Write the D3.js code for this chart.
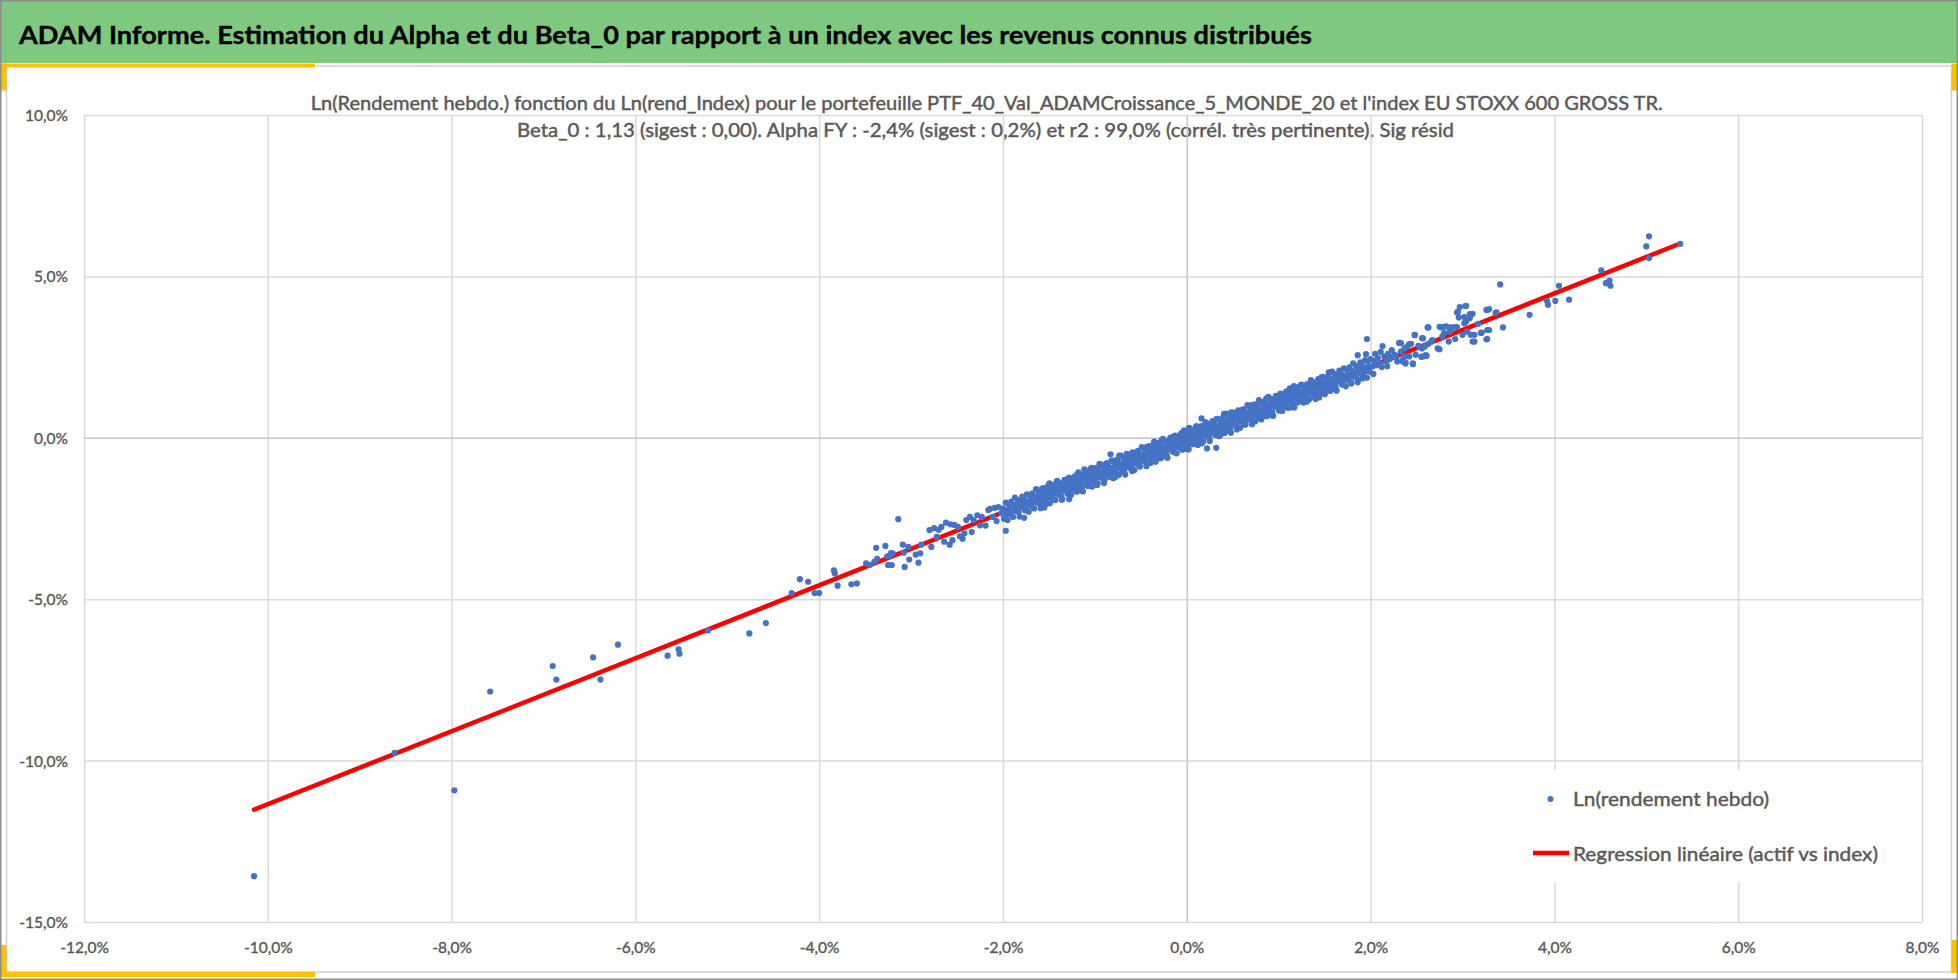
<!DOCTYPE html>
<html><head><meta charset="utf-8">
<script src="https://cdn.jsdelivr.net/npm/d3@7"></script>
<style>html,body{margin:0;padding:0;background:#fff;overflow:hidden}svg{display:block}</style>
</head><body>
<svg id="chart" width="1958" height="980"></svg>
<script>
// ---------- data ----------
const titleText = "ADAM Informe. Estimation du Alpha et du Beta_0 par rapport à un index avec les revenus connus distribués";
const subtitleLines = [
  "Ln(Rendement hebdo.) fonction du Ln(rend_Index) pour le portefeuille PTF_40_Val_ADAMCroissance_5_MONDE_20 et l'index EU STOXX 600 GROSS TR.",
  "Beta_0 : 1,13 (sigest : 0,00). Alpha FY : -2,4% (sigest : 0,2%) et r2 : 99,0% (corrél. très pertinente). Sig résid"
];
const xTicks = [-12,-10,-8,-6,-4,-2,0,2,4,6,8];
const yTicks = [10,5,0,-5,-10,-15];
const legendLabels = ["Ln(rendement hebdo)", "Regression linéaire (actif vs index)"];
// regression line end points [x %, y %]
const regressionLine = [[-10.15,-11.52],[5.37,6.02]];
// weekly log returns [index %, portfolio %]
const tailPoints = [
[-10.15,-13.58],[-8.62,-9.76],[-7.97,-10.92],[-7.58,-7.86],[-6.90,-7.07],[-6.86,-7.49],[-6.46,-6.80],[-6.38,-7.49],[-6.19,-6.41],[-5.65,-6.75],[-5.53,-6.55],[-5.52,-6.69],[-5.21,-5.97],[-4.76,-6.06],[-4.58,-5.74],[-4.30,-4.81],[-4.21,-4.38],[-4.12,-4.46],[-4.05,-4.81],[-4.00,-4.81],[-3.84,-4.11],[-3.83,-4.20],[-3.80,-4.58],[-3.65,-4.54],[-3.59,-4.51],[-3.49,-3.89],[-3.45,-3.94],[-3.40,-3.84],[-3.38,-3.41],[-3.37,-3.75],[-3.28,-3.35],[-3.26,-3.67],[-3.25,-3.94],[-3.21,-3.94],[-3.22,-3.57],[-3.23,-3.64],[-3.20,-3.58],[-3.14,-2.52],[-3.09,-3.31],[-3.08,-3.56],[-3.07,-4.00],[-3.03,-3.38],[-3.02,-3.77],[-2.92,-3.87],[-2.90,-3.58],[-2.89,-3.31],[-2.80,-2.86],[-2.78,-3.38],[-2.75,-2.80],[-2.72,-3.07],[-2.67,-2.76],[-2.62,-2.63],[-2.57,-2.68],[-2.58,-3.31],[-2.55,-3.17],[-2.49,-2.76],[-2.44,-3.13],[-2.42,-2.96],[-2.36,-2.45],[-2.32,-2.55],[-2.25,-2.71],[-2.23,-2.45],[-2.16,-2.24],[-2.09,-2.17],[-2.11,-2.45],[-2.02,-2.34],
[-2.53,-2.70],[-2.47,-3.05],[-2.40,-2.55],[-2.34,-2.92],[-2.28,-2.40],[-2.19,-2.72],[-2.14,-2.20],[-2.07,-2.58],[-2.05,-2.15],[-2.70,-2.85],[-2.95,-3.62],[-2.64,-3.22],
[-1.97,-2.88],[-1.77,-2.48],[-1.55,-2.16],[-1.28,-1.90],[-0.83,-0.51],[0.22,-0.33],[0.32,-0.31],[0.16,0.60],[1.44,1.25],[1.79,1.68],[1.91,1.84],[1.96,3.06],[1.86,2.56],[1.95,2.59],
[2.13,2.84],[2.23,2.72],[2.31,2.94],[2.24,2.51],[2.29,2.36],[2.02,2.21],[2.04,2.38],[2.06,2.25],[2.08,2.47],[2.10,2.31],[2.12,2.19],[2.15,2.52],[2.17,2.36],[2.19,2.60],[2.21,2.44],[2.26,2.58],[2.28,2.49],[2.05,2.60],[2.11,2.66],[2.18,2.22],[2.03,1.98],
[2.42,2.90],[2.48,3.18],[2.53,2.82],[2.62,3.42],[2.66,2.98],[2.75,3.44],[2.80,3.44],[2.91,3.42],[2.95,3.90],[3.03,4.08],[3.04,3.60],[3.08,3.83],[3.11,2.98],[3.20,3.25],[3.26,3.96],[3.27,3.34],[3.26,3.05],[3.36,3.87],[2.35,2.41],[2.38,2.30],[2.46,2.28],[2.55,2.51],[2.60,2.56],[2.56,3.09],
[5.37,6.01],[5.03,6.24],[5.00,5.93],[5.03,5.57],[4.51,5.19],[4.56,4.79],[4.60,4.87],[4.61,4.71],[4.58,4.81],[4.05,4.71],[4.16,4.28],[4.01,4.24],[3.92,4.24],[3.93,4.12],[3.73,3.81],[3.41,4.75],[3.44,3.42],[3.37,3.89],[3.29,3.34],[3.27,3.96],[3.29,3.99],[3.27,3.06],[3.21,3.26],[3.13,2.98],[3.17,3.53],[3.11,3.84],[3.04,4.09],[2.97,4.05],[2.94,3.88],[2.96,3.73],[3.02,3.74],[3.08,3.71],[3.02,3.55],[3.05,3.29],[3.09,3.19],[3.00,3.19],[3.13,3.19],[2.94,3.43],[2.90,3.42],[2.86,3.42],[2.82,3.45],[2.77,3.42],[2.86,3.29],[2.80,3.24],[2.78,3.14],[2.92,3.06],[2.85,2.98],[2.63,3.42],[2.73,2.77],[2.75,2.74],[2.67,3.03],[2.63,2.91],[2.59,2.83],[2.56,2.77],[2.52,2.85],[2.57,3.08],[2.48,3.19],[2.61,2.54],[2.57,2.52],[2.49,2.57],[2.44,2.91],[2.40,2.83],[2.37,2.77],[2.33,2.93],[2.37,2.52],[2.42,2.52],[2.46,2.31],[2.35,2.36],[2.38,2.33],[2.33,2.67]
];
const corePointsA = [
[-2.00,-2.19],[-1.99,-2.51],[-1.98,-2.24],[-1.97,-2.01],[-1.96,-2.36],[-1.95,-2.55],[-1.94,-2.06],[-1.93,-2.22],[-1.92,-2.37],[-1.91,-1.98],[-1.90,-2.24],[-1.89,-2.45],[-1.88,-2.08],[-1.87,-1.85],[-1.86,-2.27],[-1.85,-2.11],[-1.84,-1.93],[-1.83,-2.31],[-1.82,-2.44],[-1.81,-1.96],[-1.80,-2.15],[-1.79,-1.82],[-1.78,-2.07],
[-1.77,-1.93],[-1.76,-2.25],[-1.75,-1.98],[-1.74,-1.75],[-1.73,-2.10],[-1.72,-2.29],[-1.71,-1.80],[-1.70,-1.96],[-1.69,-2.11],[-1.68,-1.72],[-1.67,-1.98],[-1.66,-2.19],[-1.65,-1.82],[-1.64,-1.59],[-1.63,-2.01],[-1.62,-1.85],[-1.61,-1.67],[-1.60,-2.05],[-1.59,-2.18],[-1.58,-1.70],[-1.57,-1.89],[-1.56,-1.56],[-1.55,-1.81],
[-1.54,-1.67],[-1.53,-1.99],[-1.52,-1.72],[-1.51,-1.49],[-1.50,-1.84],[-1.49,-2.03],[-1.48,-1.54],[-1.47,-1.70],[-1.46,-1.85],[-1.45,-1.46],[-1.44,-1.72],[-1.43,-1.93],[-1.42,-1.56],[-1.41,-1.33],[-1.40,-1.75],[-1.39,-1.59],[-1.38,-1.41],[-1.37,-1.79],[-1.36,-1.92],[-1.35,-1.44],[-1.34,-1.63],[-1.33,-1.30],[-1.32,-1.55],
[-1.31,-1.41],[-1.30,-1.73],[-1.29,-1.46],[-1.28,-1.23],[-1.27,-1.58],[-1.26,-1.77],[-1.25,-1.28],[-1.24,-1.44],[-1.23,-1.59],[-1.22,-1.20],[-1.21,-1.46],[-1.20,-1.67],[-1.19,-1.30],[-1.18,-1.07],[-1.17,-1.49],[-1.16,-1.33],[-1.15,-1.15],[-1.14,-1.53],[-1.13,-1.66],[-1.12,-1.18],[-1.11,-1.37],[-1.10,-1.04],[-1.09,-1.29],
[-1.08,-1.15],[-1.07,-1.47],[-1.06,-1.20],[-1.05,-0.97],[-1.04,-1.32],[-1.03,-1.51],[-1.02,-1.02],[-1.01,-1.18],[-1.00,-1.33],[-0.99,-0.94],[-0.98,-1.20],[-0.97,-1.41],[-0.96,-1.04],[-0.95,-0.81],[-0.94,-1.23],[-0.93,-1.07],[-0.92,-0.89],[-0.91,-1.27],[-0.90,-1.40],[-0.89,-0.92],[-0.88,-1.11],[-0.87,-0.78],[-0.86,-1.03],
[-0.85,-0.89],[-0.84,-1.21],[-0.83,-0.94],[-0.82,-0.71],[-0.81,-1.06],[-0.80,-1.25],[-0.79,-0.76],[-0.78,-0.92],[-0.77,-1.07],[-0.76,-0.68],[-0.75,-0.94],[-0.74,-1.15],[-0.73,-0.78],[-0.72,-0.55],[-0.71,-0.97],[-0.70,-0.81],[-0.69,-0.63],[-0.68,-1.01],[-0.67,-1.14],[-0.66,-0.66],[-0.65,-0.85],[-0.64,-0.52],[-0.63,-0.77],
[-0.62,-0.63],[-0.61,-0.95],[-0.60,-0.68],[-0.59,-0.45],[-0.58,-0.80],[-0.57,-1.00],[-0.56,-0.50],[-0.55,-0.66],[-0.54,-0.81],[-0.53,-0.42],[-0.52,-0.68],[-0.51,-0.89],[-0.50,-0.53],[-0.49,-0.29],[-0.48,-0.71],[-0.47,-0.55],[-0.46,-0.37],[-0.45,-0.75],[-0.44,-0.88],[-0.43,-0.40],[-0.42,-0.60],[-0.41,-0.26],[-0.40,-0.51],
[-0.39,-0.37],[-0.38,-0.69],[-0.37,-0.42],[-0.36,-0.19],[-0.35,-0.54],[-0.34,-0.74],[-0.33,-0.24],[-0.32,-0.40],[-0.31,-0.55],[-0.30,-0.16],[-0.29,-0.42],[-0.28,-0.63],[-0.27,-0.27],[-0.26,-0.03],[-0.25,-0.45],[-0.24,-0.29],[-0.23,-0.11],[-0.22,-0.49],[-0.21,-0.62],[-0.20,-0.14],[-0.19,-0.34],[-0.18,0.00],[-0.17,-0.25],
[-0.16,-0.11],[-0.15,-0.43],[-0.14,-0.16],[-0.13,0.07],[-0.12,-0.28],[-0.11,-0.48],[-0.10,0.02],[-0.09,-0.14],[-0.08,-0.29],[-0.07,0.10],[-0.06,-0.16],[-0.05,-0.37],[-0.04,0.00],[-0.03,0.23],[-0.02,-0.19],[-0.01,-0.03],[0.00,0.15],[0.01,-0.23],[0.02,-0.36],[0.03,0.12],[0.04,-0.08],[0.05,0.26],[0.06,0.01],
[0.07,0.15],[0.08,-0.17],[0.09,0.10],[0.10,0.33],[0.11,-0.02],[0.12,-0.22],[0.13,0.28],[0.14,0.12],[0.15,-0.03],[0.16,0.36],[0.17,0.10],[0.18,-0.11],[0.19,0.26],[0.20,0.49],[0.21,0.07],[0.22,0.23],[0.23,0.41],[0.24,0.03],[0.25,-0.10],[0.26,0.38],[0.27,0.19],[0.28,0.52],[0.29,0.27],
[0.30,0.41],[0.31,0.09],[0.32,0.36],[0.33,0.59],[0.34,0.24],[0.35,0.05],[0.36,0.54],[0.37,0.38],[0.38,0.23],[0.39,0.62],[0.40,0.36],[0.41,0.15],[0.42,0.52],[0.43,0.75],[0.44,0.33],[0.45,0.49],[0.46,0.67],[0.47,0.29],[0.48,0.16],[0.49,0.64],[0.50,0.45],[0.51,0.78],[0.52,0.53],
[0.53,0.67],[0.54,0.35],[0.55,0.62],[0.56,0.85],[0.57,0.50],[0.58,0.31],[0.59,0.80],[0.60,0.64],[0.61,0.49],[0.62,0.88],[0.63,0.62],[0.64,0.41],[0.65,0.78],[0.66,1.01],[0.67,0.59],[0.68,0.75],[0.69,0.93],[0.70,0.55],[0.71,0.42],[0.72,0.90],[0.73,0.71],[0.74,1.04],[0.75,0.79],
[0.76,0.93],[0.77,0.61],[0.78,0.88],[0.79,1.11],[0.80,0.76],[0.81,0.57],[0.82,1.06],[0.83,0.90],[0.84,0.75],[0.85,1.14],[0.86,0.88],[0.87,0.67],[0.88,1.04],[0.89,1.27],[0.90,0.85],[0.91,1.01],[0.92,1.19],[0.93,0.81],[0.94,0.68],[0.95,1.16],[0.96,0.97],[0.97,1.30],[0.98,1.05],
[0.99,1.19],[1.00,0.87],[1.01,1.14],[1.02,1.37],[1.03,1.02],[1.04,0.83],[1.05,1.32],[1.06,1.16],[1.07,1.01],[1.08,1.40],[1.09,1.14],[1.10,0.93],[1.11,1.30],[1.12,1.53],[1.13,1.11],[1.14,1.27],[1.15,1.45],[1.16,1.07],[1.17,0.94],[1.18,1.42],[1.19,1.23],[1.20,1.56],[1.21,1.31],
[1.22,1.45],[1.23,1.13],[1.24,1.40],[1.25,1.63],[1.26,1.28],[1.27,1.09],[1.28,1.58],[1.29,1.42],[1.30,1.27],[1.31,1.66],[1.32,1.40],[1.33,1.19],[1.34,1.56],[1.35,1.79],[1.36,1.37],[1.37,1.53],[1.38,1.71],[1.39,1.33],[1.40,1.20],[1.41,1.68],[1.42,1.49],[1.43,1.82],[1.44,1.57],
[1.45,1.71],[1.46,1.39],[1.47,1.66],[1.48,1.89],[1.49,1.54],[1.50,1.35],[1.51,1.84],[1.52,1.68],[1.53,1.53],[1.54,1.92],[1.55,1.66],[1.56,1.45],[1.57,1.82],[1.58,2.05],[1.59,1.63],[1.60,1.79],[1.61,1.97],[1.62,1.59],[1.63,1.46],[1.64,1.94],[1.65,1.75],[1.66,2.08],[1.67,1.83],
[1.68,1.97],[1.69,1.65],[1.70,1.92],[1.71,2.15],[1.72,1.80],[1.73,1.60],[1.74,2.10],[1.75,1.94],[1.76,1.79],[1.77,2.18],[1.78,1.92],[1.79,1.71],[1.80,2.07],[1.81,2.31],[1.82,1.89],[1.83,2.05],[1.84,2.23],[1.85,1.85],[1.86,1.72],[1.87,2.20],[1.88,2.00],[1.89,2.34],[1.90,2.09],
[1.91,2.23],[1.92,1.91],[1.93,2.18],[1.94,2.41],[1.95,2.06],[1.96,1.86],[1.97,2.36],[1.98,2.20],[1.99,2.05],[2.00,2.44]
];
const corePointsB = [
[-1.595,-2.02],[-1.575,-1.57],[-1.555,-1.79],[-1.535,-2.06],[-1.515,-1.61],[-1.495,-1.41],[-1.475,-1.78],[-1.455,-1.91],[-1.435,-1.57],[-1.415,-1.36],[-1.395,-1.76],[-1.375,-1.54],[-1.355,-1.89],[-1.335,-1.37],[-1.315,-1.56],[-1.295,-1.27],[-1.275,-1.74],[-1.255,-1.39],[-1.235,-1.55],
[-1.215,-1.59],[-1.195,-1.14],[-1.175,-1.36],[-1.155,-1.64],[-1.135,-1.18],[-1.115,-0.98],[-1.095,-1.35],[-1.075,-1.49],[-1.055,-1.14],[-1.035,-0.93],[-1.015,-1.33],[-0.995,-1.11],[-0.975,-1.46],[-0.955,-0.94],[-0.935,-1.13],[-0.915,-0.84],[-0.895,-1.31],[-0.875,-0.96],[-0.855,-1.12],
[-0.835,-1.16],[-0.815,-0.71],[-0.795,-0.93],[-0.775,-1.21],[-0.755,-0.75],[-0.735,-0.55],[-0.715,-0.92],[-0.695,-1.06],[-0.675,-0.71],[-0.655,-0.50],[-0.635,-0.90],[-0.615,-0.68],[-0.595,-1.03],[-0.575,-0.51],[-0.555,-0.70],[-0.535,-0.41],[-0.515,-0.88],[-0.495,-0.53],[-0.475,-0.69],
[-0.455,-0.73],[-0.435,-0.28],[-0.415,-0.50],[-0.395,-0.78],[-0.375,-0.32],[-0.355,-0.12],[-0.335,-0.49],[-0.315,-0.63],[-0.295,-0.28],[-0.275,-0.07],[-0.255,-0.47],[-0.235,-0.26],[-0.215,-0.60],[-0.195,-0.08],[-0.175,-0.27],[-0.155,0.02],[-0.135,-0.45],[-0.115,-0.10],[-0.095,-0.26],
[-0.075,-0.30],[-0.055,0.15],[-0.035,-0.07],[-0.015,-0.35],[0.005,0.11],[0.025,0.31],[0.045,-0.06],[0.065,-0.20],[0.085,0.15],[0.105,0.36],[0.125,-0.04],[0.145,0.18],[0.165,-0.17],[0.185,0.35],[0.205,0.16],[0.225,0.45],[0.245,-0.02],[0.265,0.33],[0.285,0.17],
[0.305,0.13],[0.325,0.58],[0.345,0.36],[0.365,0.08],[0.385,0.54],[0.405,0.74],[0.425,0.37],[0.445,0.23],[0.465,0.58],[0.485,0.79],[0.505,0.39],[0.525,0.60],[0.545,0.26],[0.565,0.78],[0.585,0.59],[0.605,0.87],[0.625,0.41],[0.645,0.76],[0.665,0.60],
[0.685,0.56],[0.705,1.01],[0.725,0.79],[0.745,0.51],[0.765,0.97],[0.785,1.17],[0.805,0.80],[0.825,0.66],[0.845,1.01],[0.865,1.22],[0.885,0.82],[0.905,1.03],[0.925,0.69],[0.945,1.21],[0.965,1.02],[0.985,1.30],[1.005,0.84],[1.025,1.19],[1.045,1.03],
[1.065,0.98],[1.085,1.44],[1.105,1.22],[1.125,0.94],[1.145,1.39],[1.165,1.60],[1.185,1.23],[1.205,1.09],[1.225,1.44],[1.245,1.65],[1.265,1.25],[1.285,1.46],[1.305,1.12],[1.325,1.64],[1.345,1.45],[1.365,1.73],[1.385,1.27],[1.405,1.62],[1.425,1.46],
[1.445,1.41],[1.465,1.87],[1.485,1.65],[1.505,1.37],[1.525,1.82],[1.545,2.03],[1.565,1.66],[1.585,1.52]
];
const weeklyPoints = tailPoints.concat(corePointsA, corePointsB);

// ---------- drawing ----------
const W = 1958, H = 980;
const FONT = "Lato, 'Open Sans', 'Noto Sans', sans-serif";
const svg = d3.select("#chart");
const plot = {left: 84, right: 1922, top: 115, bottom: 922};
const x = d3.scaleLinear().domain([-12, 8]).range([plot.left, plot.right]);
const y = d3.scaleLinear().domain([-15, 10]).range([plot.bottom, plot.top]);
const fmt = d => d.toFixed(1).replace(".", ",") + "%";

svg.append("rect").attr("width", W).attr("height", H).attr("fill", "#fff");
// chart area border
svg.append("rect").attr("x", 6.5).attr("y", 66).attr("width", W - 13).attr("height", 906)
  .attr("fill", "none").attr("stroke", "#d0d0d0").attr("stroke-width", 1.5);
// title band
svg.append("rect").attr("x", 1).attr("y", 1).attr("width", W - 2).attr("height", 62).attr("fill", "#7ec87f");
// yellow corner accents
const Y = "#ffc000";
[[0,63.5,315,4],[0,63.5,6.5,27],[W-6.5,63.5,6.5,27],[0,945,6.5,32],[0,972,315,5],[W-6.5,940,6.5,33]].forEach(r =>
  svg.append("rect").attr("x", r[0]).attr("y", r[1]).attr("width", r[2]).attr("height", r[3]).attr("fill", Y));
// outer border
svg.append("rect").attr("x", 0.75).attr("y", 0.75).attr("width", W - 1.5).attr("height", H - 1.5)
  .attr("fill", "none").attr("stroke", "#8c8c8c").attr("stroke-width", 1.5);

svg.append("text").attr("x", 19).attr("y", 44).text(titleText)
  .attr("font-family", FONT).attr("font-weight", 700).attr("font-size", 24.5).attr("fill", "#000")
  .attr("stroke", "#000").attr("stroke-width", 0.35)
  .attr("textLength", 1293).attr("lengthAdjust", "spacingAndGlyphs");

const subPos = [[310.7, 110, 1352], [517, 137, 937]];
subtitleLines.forEach((t, i) => svg.append("text").attr("x", subPos[i][0]).attr("y", subPos[i][1]).text(t)
  .attr("font-family", FONT).attr("font-size", 19).attr("fill", "#595959")
  .attr("stroke", "#595959").attr("stroke-width", 0.45)
  .attr("textLength", subPos[i][2]).attr("lengthAdjust", "spacingAndGlyphs"));

// gridlines + tick labels
const gx = svg.append("g").attr("transform", `translate(0,${plot.bottom})`)
  .call(d3.axisBottom(x).tickValues(xTicks).tickSize(-(plot.bottom - plot.top)).tickFormat(fmt).tickPadding(0));
const gy = svg.append("g").attr("transform", `translate(${plot.left},0)`)
  .call(d3.axisLeft(y).tickValues(yTicks).tickSize(-(plot.right - plot.left)).tickFormat(fmt).tickPadding(16));
[gx, gy].forEach(g => {
  g.select(".domain").remove();
  g.selectAll(".tick line").attr("stroke", d => d === 0 ? "#c6c6c6" : "#d9d9d9").attr("stroke-width", 1.5);
  g.selectAll(".tick text").attr("font-family", FONT).attr("font-size", 15.5).attr("fill", "#595959")
    .attr("stroke", "#595959").attr("stroke-width", 0.4);
});
gx.selectAll(".tick text").attr("y", 31).attr("dy", 0);
gy.selectAll(".tick text").attr("dy", "0.35em");

// legend background
svg.append("rect").attr("x", 1525).attr("y", 770).attr("width", 370).attr("height", 112).attr("fill", "#fff");

// regression line
svg.append("path").datum(regressionLine)
  .attr("d", d3.line().x(d => x(d[0])).y(d => y(d[1])))
  .attr("stroke", "#ff0000").attr("stroke-width", 4.5).attr("fill", "none").attr("stroke-linecap", "round");

// points
svg.append("g").selectAll("circle").data(weeklyPoints).join("circle")
  .attr("cx", d => x(d[0])).attr("cy", d => y(d[1])).attr("r", 3.1).attr("fill", "#4472c4");

// legend
const lg = svg.append("g");
lg.append("circle").attr("cx", 1550.5).attr("cy", 799).attr("r", 3).attr("fill", "#4472c4");
lg.append("line").attr("x1", 1533).attr("x2", 1569).attr("y1", 853).attr("y2", 853).attr("stroke", "#ff0000").attr("stroke-width", 4.5);
const lgPos = [[806, 196], [861, 305]];
legendLabels.forEach((t, i) => lg.append("text").attr("x", 1573).attr("y", lgPos[i][0]).text(t)
  .attr("font-family", FONT).attr("font-size", 20).attr("fill", "#595959")
  .attr("stroke", "#595959").attr("stroke-width", 0.45)
  .attr("textLength", lgPos[i][1]).attr("lengthAdjust", "spacingAndGlyphs"));
</script>
</body></html>
